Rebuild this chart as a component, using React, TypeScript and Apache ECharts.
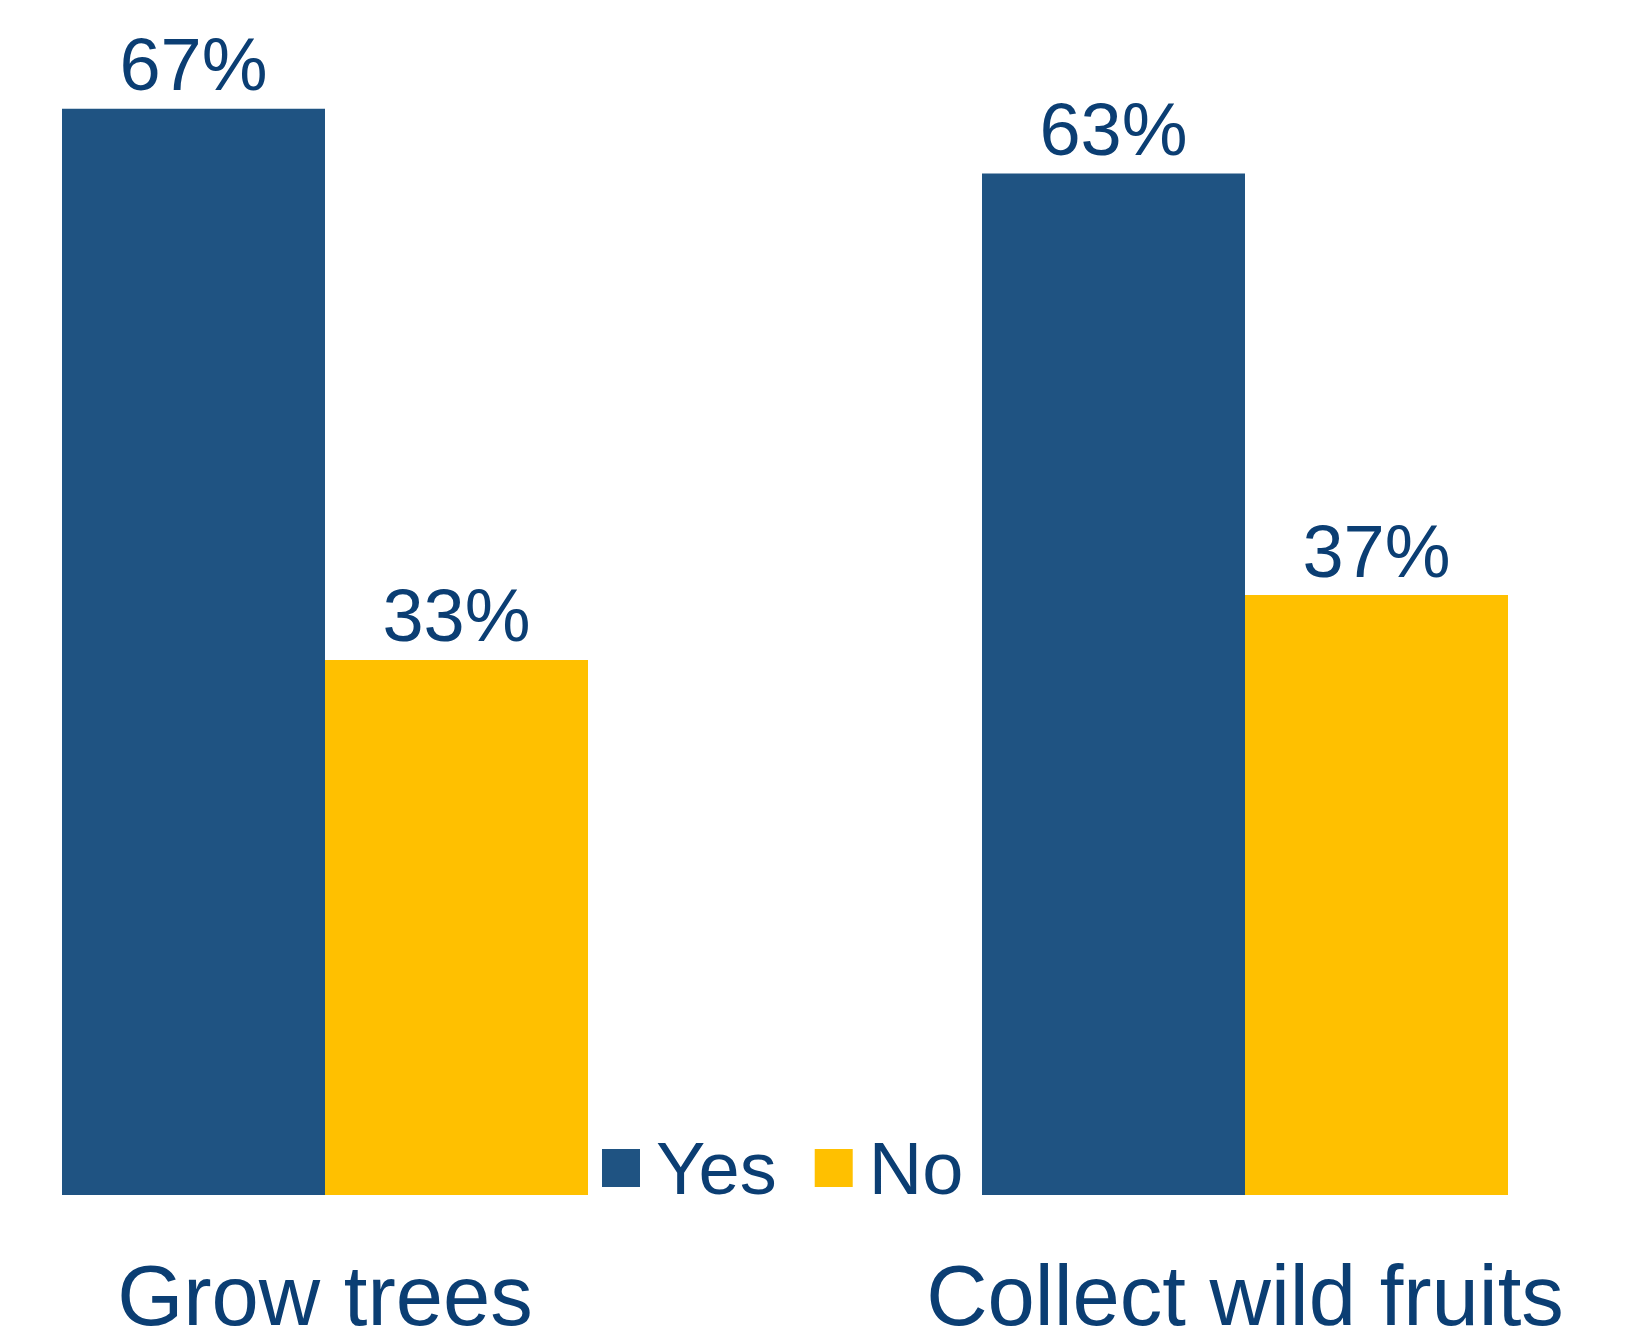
import React, { useEffect, useRef } from "react";
import * as echarts from "echarts";

const categories = ["Grow trees", "Collect wild fruits"];
const seriesNames = ["Yes", "No"];
const yesValues = [67, 63];
const noValues = [33, 37];

const TEXT = "#0b3e73";
const BLUE = "#1f5382";
const YELLOW = "#ffc000";
const FONT = "'Liberation Sans', Arial, sans-serif";

export default function App() {
  const ref = useRef<HTMLDivElement>(null);
  useEffect(() => {
    document.body.style.margin = "0";
    const chart = echarts.init(ref.current!, null, { renderer: "svg" });
    const labelStyle = {
      show: true,
      position: "top" as const,
      distance: 7,
      color: TEXT,
      fontSize: 74,
      lineHeight: 74,
      fontFamily: FONT,
      formatter: "{c}%",
    };
    chart.setOption({
      animation: false,
      backgroundColor: "#ffffff",
      grid: {
        left: 325,
        right: 397,
        top: 60,
        bottom: 136,
        containLabel: false,
        outerBoundsMode: "none",
      },
      legend: {
        data: seriesNames,
        left: 602,
        top: 1131,
        padding: 0,
        icon: "rect",
        itemWidth: 38,
        itemHeight: 38,
        itemGap: 38,
        textStyle: {
          color: TEXT,
          fontSize: 74,
          lineHeight: 72,
          fontFamily: FONT,
          padding: [0, 0, 0, 11],
        },
      },
      xAxis: {
        type: "category",
        data: categories,
        boundaryGap: false,
        axisLine: { show: false },
        axisTick: { show: false },
        splitLine: { show: false },
        axisLabel: {
          color: TEXT,
          fontSize: 85,
          lineHeight: 68,
          fontFamily: FONT,
          margin: 66,
          interval: 0,
        },
      },
      yAxis: {
        type: "value",
        min: 0,
        max: 70,
        show: false,
        splitLine: { show: false },
      },
      series: [
        {
          name: seriesNames[0],
          type: "bar",
          data: yesValues,
          barWidth: 263,
          barGap: "0%",
          clip: false,
          itemStyle: { color: BLUE },
          label: labelStyle,
        },
        {
          name: seriesNames[1],
          type: "bar",
          data: noValues,
          barWidth: 263,
          barGap: "0%",
          clip: false,
          itemStyle: { color: YELLOW },
          label: labelStyle,
        },
      ],
    });
    return () => chart.dispose();
  }, []);
  return (
    <div
      ref={ref}
      style={{ position: "absolute", left: 0, top: 0, width: 1642, height: 1331 }}
    />
  );
}
